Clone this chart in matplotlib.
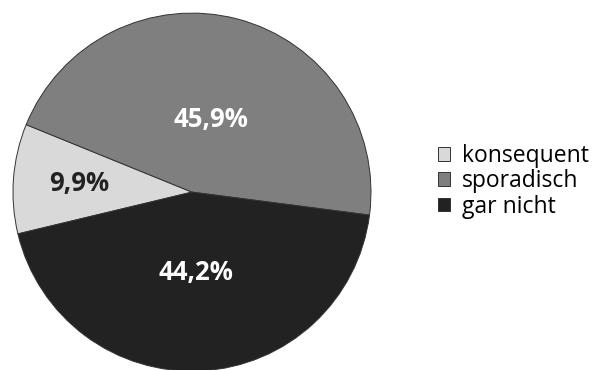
import matplotlib.pyplot as plt
import numpy as np

labels = ["konsequent", "sporadisch", "gar nicht"]
shares = [9.9, 45.9, 44.2]
colors = ["#d9d9d9", "#7f7f7f", "#222222"]
text_colors = ["#222222", "white", "white"]
label_radius = [0.63, 0.42, 0.45]

fig = plt.figure(figsize=(6.04, 3.7), dpi=100)
ax = fig.add_axes([0.0215, -0.003, 0.5927, 0.9676])

wedges, _ = ax.pie(shares, colors=colors, startangle=193.5, counterclock=False,
                   wedgeprops=dict(edgecolor="#333333", linewidth=0.7))
for w, v, r, tc in zip(wedges, shares, label_radius, text_colors):
    mid = np.deg2rad((w.theta1 + w.theta2) / 2)
    ax.text(r * np.cos(mid), r * np.sin(mid), f"{v:.1f}%".replace(".", ","),
            ha="center", va="center", color=tc, fontsize=18.5,
            fontweight="bold", family="Open Sans")
ax.set_xlim(-1, 1); ax.set_ylim(-1, 1)
ax.set_aspect("equal"); ax.axis("off")

fig.legend(wedges, labels, loc="center left", bbox_to_anchor=(0.706, 0.51),
           frameon=False, prop=dict(family="Open Sans", size=16.5),
           handlelength=0.55, handleheight=0.55, handletextpad=0.5,
           labelspacing=0.06, borderpad=0)
fig.savefig("out.png", dpi=100, facecolor="white")
